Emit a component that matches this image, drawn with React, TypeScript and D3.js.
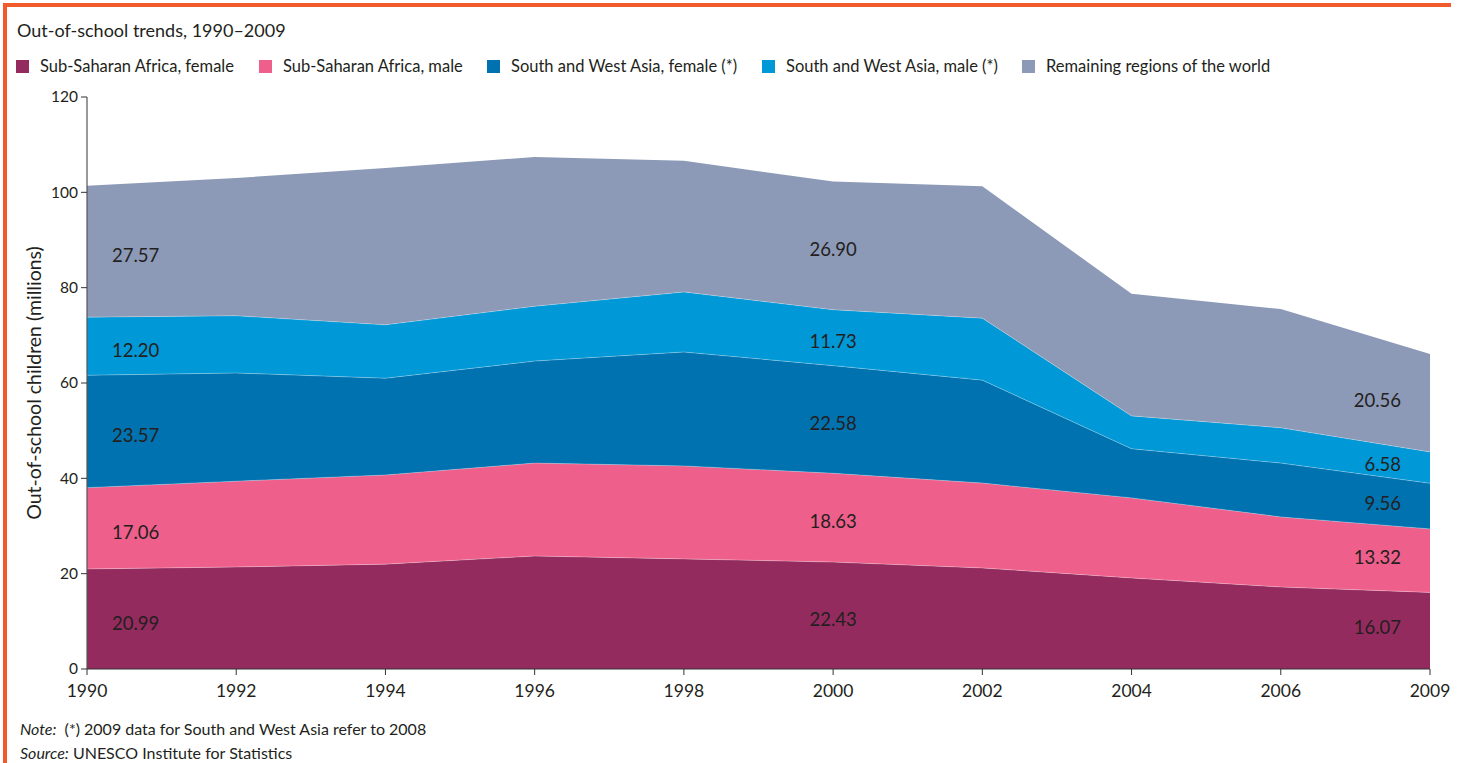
import React from "react";
import * as d3 from "d3";

const years = ["1990", "1992", "1994", "1996", "1998", "2000", "2002", "2004", "2006", "2009"];
const ssaFemale = [20.99, 21.4, 22.0, 23.7, 23.1, 22.43, 21.2, 19.1, 17.2, 16.07];
const ssaMale = [17.06, 18.0, 18.7, 19.5, 19.5, 18.63, 17.8, 16.8, 14.7, 13.32];
const swaFemale = [23.57, 22.7, 20.3, 21.4, 23.9, 22.58, 21.6, 10.3, 11.3, 9.56];
const swaMale = [12.2, 12.0, 11.2, 11.5, 12.6, 11.73, 13.0, 6.9, 7.4, 6.58];
const remaining = [27.57, 28.9, 32.9, 31.3, 27.5, 26.9, 27.7, 25.6, 24.9, 20.56];

const seriesNames = [
  "Sub-Saharan Africa, female",
  "Sub-Saharan Africa, male",
  "South and West Asia, female (*)",
  "South and West Asia, male (*)",
  "Remaining regions of the world",
];
const seriesValues = [ssaFemale, ssaMale, swaFemale, swaMale, remaining];
const colors = ["#942b5e", "#ee5f8b", "#0072b0", "#0098d6", "#8c9ab7"];
const yTicks = [0, 20, 40, 60, 80, 100, 120];
const labelYears = ["1990", "2000", "2009"];
const legendX = [16, 259, 487, 762, 1022];

const FONT = "Lato, 'Open Sans', sans-serif";

export default function App() {
  const left = 87, right = 1430, top = 97, bottom = 669;
  const x = d3.scalePoint<string>().domain(years).range([left, right]);
  const y = d3.scaleLinear().domain([0, 120]).range([bottom, top]);

  const table = years.map((yr, i) => {
    const row: any = { year: yr };
    seriesNames.forEach((n, k) => (row[n] = seriesValues[k][i]));
    return row;
  });
  const stacked = d3.stack<any>().keys(seriesNames)(table);
  const area = d3
    .area<any>()
    .x((d) => x(d.data.year) as number)
    .y0((d) => y(d[0]))
    .y1((d) => y(d[1]))
    .curve(d3.curveLinear);
  const line = d3
    .line<any>()
    .x((d) => x(d.data.year) as number)
    .y((d) => y(d[1]))
    .curve(d3.curveLinear);

  const textColor = "#231f20";

  return (
    <svg
      width={1466}
      height={763}
      style={{ position: "absolute", left: 0, top: 0, display: "block", fontFamily: FONT }}
    >
      <rect x={0} y={0} width={1466} height={763} fill="#ffffff" />
      {/* orange frame */}
      <rect x={3} y={3} width={1448} height={4} fill="#f15a2b" />
      <rect x={3} y={3} width={4} height={760} fill="#f15a2b" />

      <text x={17} y={37} fontSize={18} fill={textColor}>
        Out-of-school trends, 1990–2009
      </text>

      {seriesNames.map((n, i) => (
        <g key={n}>
          <rect x={legendX[i]} y={60} width={13} height={13} fill={colors[i]} />
          <text x={legendX[i] + 24} y={72} fontSize={16.5} fill={textColor}>
            {n}
          </text>
        </g>
      ))}

      {stacked.map((s, i) => (
        <path key={s.key} d={area(s) as string} fill={colors[i]} />
      ))}
      {stacked.slice(0, 4).map((s) => (
        <path
          key={"l" + s.key}
          d={line(s) as string}
          fill="none"
          stroke="#ffffff"
          strokeOpacity={0.35}
          strokeWidth={0.8}
        />
      ))}

      {/* y axis */}
      <line x1={left} x2={left} y1={top} y2={bottom} stroke="#555" strokeWidth={1.2} />
      {yTicks.map((t) => (
        <g key={t}>
          <line x1={left - 6} x2={left} y1={y(t)} y2={y(t)} stroke="#333" strokeWidth={1} />
          <text
            x={left - 9}
            y={y(t)}
            dy="0.35em"
            textAnchor="end"
            fontSize={15.5}
            fill={textColor}
          >
            {t}
          </text>
        </g>
      ))}
      <text
        transform={`translate(41,${(top + bottom) / 2}) rotate(-90)`}
        textAnchor="middle"
        fontSize={19.5}
        fill={textColor}
      >
        Out-of-school children (millions)
      </text>

      {/* x axis */}
      <line x1={left} x2={right} y1={bottom} y2={bottom} stroke="#333" strokeWidth={1.2} />
      {years.map((yr) => (
        <g key={yr}>
          <line
            x1={x(yr) as number}
            x2={x(yr) as number}
            y1={bottom}
            y2={bottom + 6}
            stroke="#333"
            strokeWidth={1}
          />
          <text x={x(yr) as number} y={697} textAnchor="middle" fontSize={17.5} fill={textColor}>
            {yr}
          </text>
        </g>
      ))}

      {/* value labels */}
      {labelYears.map((yr) => {
        const i = years.indexOf(yr);
        const last = i === years.length - 1;
        const anchor = i === 0 ? "start" : last ? "end" : "middle";
        const lx = i === 0 ? (x(yr) as number) + 25 : last ? (x(yr) as number) - 29 : (x(yr) as number);
        return stacked.map((s, k) => {
          const d = s[i];
          const mid = (y(d[0]) + y(d[1])) / 2;
          return (
            <text
              key={yr + k}
              x={lx}
              y={mid + (last ? -2 : 5)}
              dy="0.3em"
              textAnchor={anchor}
              fontSize={18.5}
              fill={textColor}
            >
              {seriesValues[k][i].toFixed(2)}
            </text>
          );
        });
      })}

      <text x={20} y={735} fontSize={16} fill={textColor}>
        <tspan fontStyle="italic">Note:</tspan>
        <tspan>{"\u00a0\u00a0(*) 2009 data for South and West Asia refer to 2008"}</tspan>
      </text>
      <text x={20} y={759} fontSize={16} fill={textColor}>
        <tspan fontStyle="italic">Source:</tspan>
        <tspan>{" UNESCO Institute for Statistics"}</tspan>
      </text>
    </svg>
  );
}
